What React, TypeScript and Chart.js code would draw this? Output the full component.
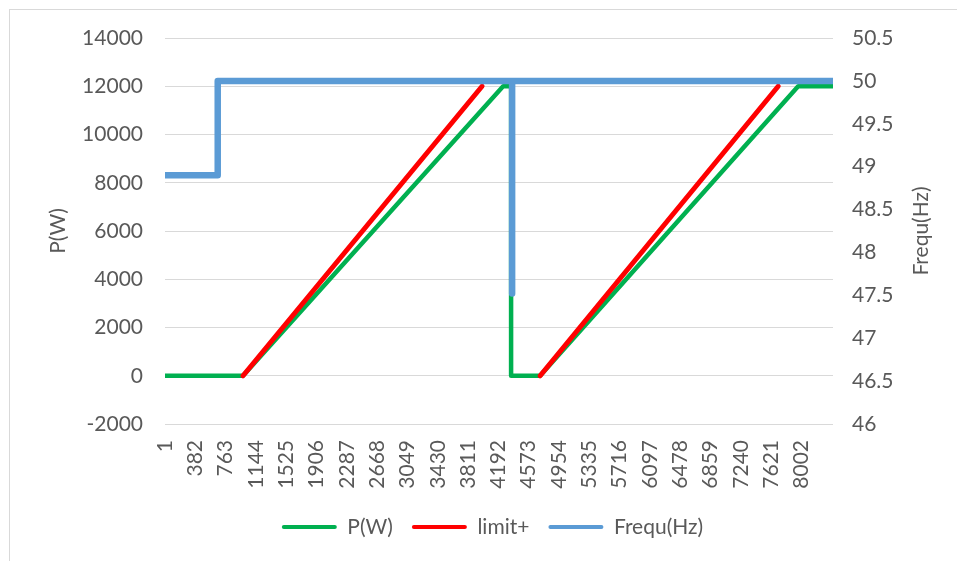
import React, { useEffect, useRef } from "react";
import { Chart, registerables } from "chart.js";

Chart.register(...registerables);

// ---- data (sample index on the x axis) ----
const xTickLabels = [1, 382, 763, 1144, 1525, 1906, 2287, 2668, 3049, 3430, 3811, 4192, 4573, 4954, 5335, 5716, 6097, 6478, 6859, 7240, 7621, 8002];
const sampleCount = 8400;

const seriesNames = ["P(W)", "limit+", "Frequ(Hz)"];
const seriesColors = ["#00B050", "#FF0000", "#5B9BD5"];

const powerX = [0, 981, 4252, 4352, 4352, 4717, 7962, 8400];
const powerW = [0, 0, 12000, 12000, 0, 0, 12000, 12000];

const limitX = [981, 3987, 4500, 4717, 7711];
const limitW = [0, 12000, null, 0, 12000];

const freqX = [0, 663, 663, 4365, 4365, 4365, 8400];
const freqHz = [48.9, 48.9, 50.0, 50.0, 47.52, 50.0, 50.0];

const leftAxis = { min: -2000, max: 14000, step: 2000 };
const rightAxis = { min: 46, max: 50.5, step: 0.5 };
const axisTitles = ["P(W)", "Frequ(Hz)"];

const FONT = "Lato";
const FS = 21;
const TEXT = "#595959";
const GRID = "#d9d9d9";

function toPoints(xs: number[], ys: (number | null)[]) {
  return xs.map((x, i) => ({ x, y: ys[i] }));
}

const titlePlugin = {
  id: "sideTitles",
  afterDraw(chart: any) {
    const { ctx, chartArea } = chart;
    const cy = (chartArea.top + chartArea.bottom) / 2;
    const draw = (text: string, x: number) => {
      ctx.save();
      ctx.fillStyle = TEXT;
      ctx.font = `${FS}px ${FONT}`;
      ctx.textAlign = "center";
      ctx.textBaseline = "middle";
      ctx.translate(x, cy);
      ctx.rotate(-Math.PI / 2);
      ctx.fillText(text, 0, 0);
      ctx.restore();
    };
    draw(axisTitles[0], chartArea.left - 107);
    draw(axisTitles[1], chartArea.right + 88);
  },
};

export default function App() {
  const ref = useRef<HTMLCanvasElement | null>(null);

  useEffect(() => {
    if (!ref.current) return;
    const chart = new Chart(ref.current, {
      type: "line",
      data: {
        datasets: [
          {
            label: seriesNames[0],
            data: toPoints(powerX, powerW),
            borderColor: seriesColors[0],
            backgroundColor: seriesColors[0],
            borderWidth: 4.5,
            yAxisID: "y",
            order: 3,
          },
          {
            label: seriesNames[1],
            data: toPoints(limitX, limitW),
            borderColor: seriesColors[1],
            backgroundColor: seriesColors[1],
            borderWidth: 5,
            yAxisID: "y",
            spanGaps: false,
            order: 2,
          },
          {
            label: seriesNames[2],
            data: toPoints(freqX, freqHz),
            borderColor: seriesColors[2],
            backgroundColor: seriesColors[2],
            borderWidth: 6.5,
            yAxisID: "y1",
            order: 1,
          },
        ] as any,
      },
      options: {
        responsive: false,
        animation: false,
        events: [],
        elements: {
          point: { radius: 0 },
          line: { tension: 0, borderCapStyle: "round", borderJoinStyle: "round", fill: false },
        },
        layout: { padding: { left: 18, right: 0, top: 28, bottom: 13.5 } },
        scales: {
          x: {
            type: "linear",
            min: 0,
            max: sampleCount,
            afterBuildTicks: (scale: any) => {
              scale.ticks = xTickLabels.map((v) => ({ value: v }));
            },
            afterFit: (scale: any) => {
              scale.height = 73.5;
            },
            grid: { display: false, drawTicks: false },
            border: { display: false },
            ticks: {
              autoSkip: false,
              minRotation: 90,
              maxRotation: 90,
              padding: 16,
              color: TEXT,
              font: { family: FONT, size: FS },
              callback: (v: any) => String(v),
            },
          },
          y: {
            position: "left",
            min: leftAxis.min,
            max: leftAxis.max,
            afterFit: (scale: any) => {
              scale.width = 137;
              scale.paddingTop = 0;
              scale.paddingBottom = 0;
            },
            grid: { color: GRID, lineWidth: 1, drawTicks: false },
            border: { display: false },
            ticks: {
              stepSize: leftAxis.step,
              padding: 22,
              color: TEXT,
              font: { family: FONT, size: FS },
              callback: (v: any) => String(v),
            },
          },
          y1: {
            position: "right",
            min: rightAxis.min,
            max: rightAxis.max,
            afterFit: (scale: any) => {
              scale.width = 124;
              scale.paddingTop = 0;
              scale.paddingBottom = 0;
            },
            grid: { display: false, drawTicks: false },
            border: { display: false },
            ticks: {
              stepSize: rightAxis.step,
              padding: 19,
              color: TEXT,
              font: { family: FONT, size: FS },
              callback: (v: any) => String(v),
            },
          },
        },
        plugins: {
          tooltip: { enabled: false },
          legend: {
            position: "bottom",
            labels: {
              boxWidth: 55,
              boxHeight: 4,
              padding: 19,
              color: TEXT,
              font: { family: FONT, size: FS },
              sort: (a: any, b: any) => a.datasetIndex - b.datasetIndex,
              generateLabels: (c: any) =>
                (Chart.defaults.plugins.legend.labels as any)
                  .generateLabels(c)
                  .map((l: any) => ({ ...l, lineWidth: 0, fillStyle: l.strokeStyle, borderRadius: 2 })),
              useBorderRadius: true,
              borderRadius: 2,
            } as any,
          },
        },
      } as any,
      plugins: [titlePlugin],
    });
    return () => chart.destroy();
  }, []);

  return (
    <div
      style={{
        position: "absolute",
        left: 9,
        top: 9,
        width: 948,
        height: 552,
        boxSizing: "border-box",
        borderTop: `1px solid ${GRID}`,
        borderLeft: `1px solid ${GRID}`,
        background: "#fff",
      }}
    >
      <canvas ref={ref} width={947} height={551} style={{ display: "block" }} />
    </div>
  );
}
